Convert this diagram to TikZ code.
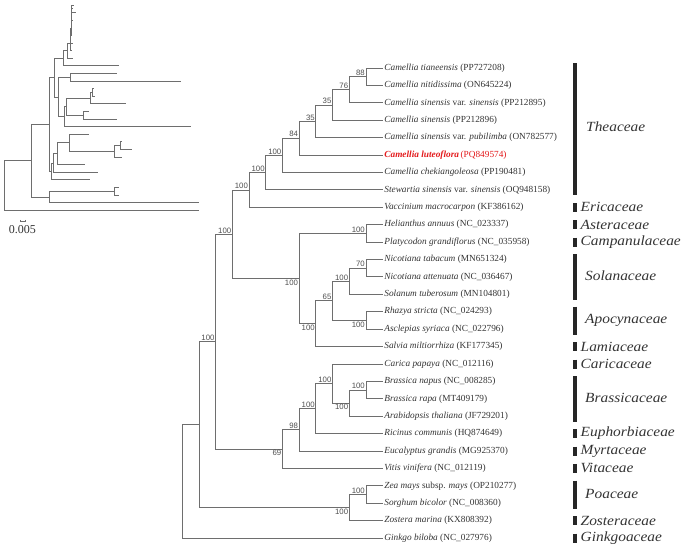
\documentclass[tikz,border=0pt]{standalone}
\usepackage{fontspec}
\setmainfont{Liberation Serif}
\newfontfamily\bootfont{Liberation Sans}
\newfontfamily\famfont[FakeStretch=1.1]{Liberation Serif}
\usetikzlibrary{positioning}
\definecolor{branch}{HTML}{6E6E6E}
\definecolor{bootgray}{HTML}{4D4D4D}
\definecolor{leafgray}{HTML}{333333}
\definecolor{lutred}{HTML}{E31A1C}
\tikzstyle{leaf} = [anchor=west, inner sep=1.5pt, text=leafgray, font=\fontsize{9.3}{10}\selectfont]
\tikzstyle{boot} = [inner sep=1pt, text=bootgray, font=\bootfont\fontsize{7.8}{8}\selectfont]
\tikzstyle{fam} = [anchor=west, inner sep=0pt, text=leafgray, font=\famfont\itshape\fontsize{14}{15}\selectfont]
\tikzstyle{famline} = [line width=3.5pt, draw=black!85]
\tikzstyle{branchline} = [draw=branch, line width=0.9pt]
\tikzstyle{inset} = [draw=branch, line width=0.8pt]

\begin{document}
\begin{tikzpicture}[x=1pt, y=-1pt]
  \useasboundingbox (0,0) rectangle (685,549);

  % small tree with branch lengths
  \coordinate (i0) at (73.5,5.0);   \coordinate (i1) at (76,12.6);
  \coordinate (i2) at (72.5,20.2);  \coordinate (i3) at (72.3,27.8);
  \coordinate (i4) at (72.3,35.4);  \coordinate (i5) at (72.5,43.0);
  \coordinate (i6) at (72,50.6);    \coordinate (i7) at (72.5,58.2);
  \coordinate (i8) at (119,65.8);   \coordinate (i9) at (117,73.4);
  \coordinate (i10) at (181,81.0);  \coordinate (i11) at (93.5,88.6);
  \coordinate (i12) at (94.5,96.2); \coordinate (i13) at (126,103.8);
  \coordinate (i14) at (89,111.4);  \coordinate (i15) at (117,119.0);
  \coordinate (i16) at (191,126.6); \coordinate (i17) at (89,134.2);
  \coordinate (i18) at (122,141.8); \coordinate (i19) at (132,149.4);
  \coordinate (i20) at (122,157.0); \coordinate (i21) at (85,164.6);
  \coordinate (i22) at (98,172.2);  \coordinate (i23) at (90,179.8);
  \coordinate (i24) at (119,187.4); \coordinate (i25) at (119,195.0);
  \coordinate (i26) at (199,202.6); \coordinate (i27) at (199,210.2);

  \coordinate (i88) at (71.8,8.8);    \coordinate (i76) at (71.6,14.5);
  \coordinate (i35a) at (71.4,21.2);  \coordinate (i35b) at (71.2,28.3);
  \coordinate (i84) at (70.8,35.7);   \coordinate (i100a) at (70.3,43.2);
  \coordinate (i100b) at (67.5,50.7); \coordinate (i100c) at (63.3,58.3);
  \coordinate (iHP) at (70.7,77.2);   \coordinate (i70) at (92,92.4);
  \coordinate (iG) at (90.7,98.1);    \coordinate (iH) at (83.3,115.2);
  \coordinate (iF) at (66,106.7);     \coordinate (iE) at (64,116.7);
  \coordinate (iD) at (58.3,97.0);    \coordinate (iC) at (54,77.7);
  \coordinate (iBr2) at (120.7,145.6); \coordinate (iBr) at (114.3,151.3);
  \coordinate (iCB) at (69,142.8);    \coordinate (iRic) at (57,153.7);
  \coordinate (i98) at (53,163.0);    \coordinate (i69) at (51,171.4);
  \coordinate (iB) at (49,124.6);     \coordinate (iZS) at (114.3,191.2);
  \coordinate (iMono) at (49.3,196.9); \coordinate (iA) at (31,160.8);
  \coordinate (iRoot) at (4,185.5);

  \draw [inset] (i88) |- (i0) (i88) |- (i1) (i76) |- (i88) (i76) |- (i2)
    (i35a) |- (i76) (i35a) |- (i3) (i35b) |- (i35a) (i35b) |- (i4)
    (i84) |- (i35b) (i84) |- (i5) (i100a) |- (i84) (i100a) |- (i6)
    (i100b) |- (i100a) (i100b) |- (i7) (i100c) |- (i100b) (i100c) |- (i8);
  \draw [inset] (iC) |- (i100c) (iC) |- (iD) (iD) |- (iHP) (iD) |- (iE)
    (iHP) |- (i9) (iHP) |- (i10) (iE) |- (iF) (iE) |- (i16)
    (iF) |- (iG) (iF) |- (iH) (iG) |- (i70) (iG) |- (i13)
    (i70) |- (i11) (i70) |- (i12) (iH) |- (i14) (iH) |- (i15);
  \draw [inset] (iB) |- (iC) (iB) |- (i69) (i69) |- (i98) (i69) |- (i23)
    (i98) |- (iRic) (i98) |- (i22) (iRic) |- (iCB) (iRic) |- (i21)
    (iCB) |- (i17) (iCB) |- (iBr) (iBr) |- (iBr2) (iBr) |- (i20)
    (iBr2) |- (i18) (iBr2) |- (i19);
  \draw [inset] (iA) |- (iB) (iA) |- (iMono) (iMono) |- (iZS) (iMono) |- (i26)
    (iZS) |- (i24) (iZS) |- (i25) (iRoot) |- (iA) (iRoot) |- (i27);

  % scale bar
  \coordinate (sbl) at (20,221);
  \coordinate (sbr) at (25.7,221);
  \draw [inset, line width=0.6pt] (sbl) -- (sbr);
  \draw [inset, line width=0.6pt] ([yshift=1.2pt]sbl) -- ([yshift=-1.2pt]sbl);
  \draw [inset, line width=0.6pt] ([yshift=1.2pt]sbr) -- ([yshift=-1.2pt]sbr);
  \node [text=leafgray, font=\fontsize{12}{13}\selectfont, inner sep=0pt] (scale) at (22.5,230) {0.005};

  % leaves
  \node [leaf] (tian) at (382.7,68.0) {\textit{Camellia tianeensis} (PP727208)};
  \node [leaf] (niti) at (382.7,85.4) {\textit{Camellia nitidissima} (ON645224)};
  \node [leaf] (sinv) at (382.7,102.8) {\textit{Camellia sinensis} var. \textit{sinensis} (PP212895)};
  \node [leaf] (sins) at (382.7,120.2) {\textit{Camellia sinensis} (PP212896)};
  \node [leaf] (pubi) at (382.7,137.6) {\textit{Camellia sinensis} var. \textit{pubilimba} (ON782577)};
  \node [leaf, text=lutred] (lute) at (382.7,155.1) {\textbf{\textit{Camellia luteoflora}}\,(PQ849574)};
  \node [leaf] (chek) at (382.7,172.5) {\textit{Camellia chekiangoleosa} (PP190481)};
  \node [leaf] (stew) at (382.7,189.9) {\textit{Stewartia sinensis} var. \textit{sinensis} (OQ948158)};
  \node [leaf] (vacc) at (382.7,207.3) {\textit{Vaccinium macrocarpon} (KF386162)};
  \node [leaf] (heli) at (382.7,224.7) {\textit{Helianthus annuus} (NC\_023337)};
  \node [leaf] (plat) at (382.7,242.1) {\textit{Platycodon grandiflorus} (NC\_035958)};
  \node [leaf] (ntab) at (382.7,259.5) {\textit{Nicotiana tabacum} (MN651324)};
  \node [leaf] (natt) at (382.7,276.9) {\textit{Nicotiana attenuata} (NC\_036467)};
  \node [leaf] (sola) at (382.7,294.3) {\textit{Solanum tuberosum} (MN104801)};
  \node [leaf] (rhaz) at (382.7,311.7) {\textit{Rhazya stricta} (NC\_024293)};
  \node [leaf] (ascl) at (382.7,329.2) {\textit{Asclepias syriaca} (NC\_022796)};
  \node [leaf] (salv) at (382.7,346.6) {\textit{Salvia miltiorrhiza} (KF177345)};
  \node [leaf] (cari) at (382.7,364.0) {\textit{Carica papaya} (NC\_012116)};
  \node [leaf] (bnap) at (382.7,381.4) {\textit{Brassica napus} (NC\_008285)};
  \node [leaf] (brap) at (382.7,398.8) {\textit{Brassica rapa} (MT409179)};
  \node [leaf] (arab) at (382.7,416.2) {\textit{Arabidopsis thaliana} (JF729201)};
  \node [leaf] (rici) at (382.7,433.6) {\textit{Ricinus communis} (HQ874649)};
  \node [leaf] (euca) at (382.7,451.0) {\textit{Eucalyptus grandis} (MG925370)};
  \node [leaf] (viti) at (382.7,468.4) {\textit{Vitis vinifera} (NC\_012119)};
  \node [leaf] (zeam) at (382.7,485.8) {\textit{Zea mays} subsp. \textit{mays} (OP210277)};
  \node [leaf] (sorg) at (382.7,503.3) {\textit{Sorghum bicolor} (NC\_008360)};
  \node [leaf] (zost) at (382.7,520.7) {\textit{Zostera marina} (KX808392)};
  \node [leaf] (gink) at (382.7,538.1) {\textit{Ginkgo biloba} (NC\_027976)};

  % internal nodes
  \coordinate (n88) at (366.0,76.7);
  \coordinate (n76) at (349.3,89.8);
  \coordinate (n35a) at (332.6,105.0);
  \coordinate (n35b) at (315.9,121.3);
  \coordinate (n84) at (299.2,138.2);
  \coordinate (n100a) at (282.5,155.4);
  \coordinate (n100b) at (265.8,172.6);
  \coordinate (n100c) at (249.1,190.0);
  \coordinate (nC) at (232.4,234.3);
  \coordinate (nHP) at (366.0,233.4);
  \coordinate (nD) at (299.2,278.6);
  \coordinate (n70) at (366.0,268.2);
  \coordinate (nG) at (349.3,281.3);
  \coordinate (nH) at (366.0,320.4);
  \coordinate (nF) at (332.6,300.9);
  \coordinate (nE) at (315.9,323.7);
  \coordinate (nBr2) at (366.0,390.1);
  \coordinate (nBr) at (349.3,403.2);
  \coordinate (nCB) at (332.6,383.6);
  \coordinate (nRic) at (315.9,408.6);
  \coordinate (n98) at (299.2,429.8);
  \coordinate (n69) at (282.5,449.1);
  \coordinate (nB) at (215.7,341.7);
  \coordinate (nZS) at (366.0,494.6);
  \coordinate (nMono) at (349.3,507.6);
  \coordinate (nA) at (199.0,424.7);
  \coordinate (nRoot) at (182.3,481.4);

  % branches
  \draw [branchline] (n88) |- (tian.west) (n88) |- (niti.west);
  \draw [branchline] (n76) |- (n88) (n76) |- (sinv.west);
  \draw [branchline] (n35a) |- (n76) (n35a) |- (sins.west);
  \draw [branchline] (n35b) |- (n35a) (n35b) |- (pubi.west);
  \draw [branchline] (n84) |- (n35b) (n84) |- (lute.west);
  \draw [branchline] (n100a) |- (n84) (n100a) |- (chek.west);
  \draw [branchline] (n100b) |- (n100a) (n100b) |- (stew.west);
  \draw [branchline] (n100c) |- (n100b) (n100c) |- (vacc.west);
  \draw [branchline] (nC) |- (n100c) (nC) |- (nD);
  \draw [branchline] (nD) |- (nHP) (nD) |- (nE);
  \draw [branchline] (nHP) |- (heli.west) (nHP) |- (plat.west);
  \draw [branchline] (nE) |- (nF) (nE) |- (salv.west);
  \draw [branchline] (nF) |- (nG) (nF) |- (nH);
  \draw [branchline] (nG) |- (n70) (nG) |- (sola.west);
  \draw [branchline] (n70) |- (ntab.west) (n70) |- (natt.west);
  \draw [branchline] (nH) |- (rhaz.west) (nH) |- (ascl.west);
  \draw [branchline] (nB) |- (nC) (nB) |- (n69);
  \draw [branchline] (n69) |- (n98) (n69) |- (viti.west);
  \draw [branchline] (n98) |- (nRic) (n98) |- (euca.west);
  \draw [branchline] (nRic) |- (nCB) (nRic) |- (rici.west);
  \draw [branchline] (nCB) |- (cari.west) (nCB) |- (nBr);
  \draw [branchline] (nBr) |- (nBr2) (nBr) |- (arab.west);
  \draw [branchline] (nBr2) |- (bnap.west) (nBr2) |- (brap.west);
  \draw [branchline] (nA) |- (nB) (nA) |- (nMono);
  \draw [branchline] (nMono) |- (nZS) (nMono) |- (zost.west);
  \draw [branchline] (nZS) |- (zeam.west) (nZS) |- (sorg.west);
  \draw [branchline] (nRoot) |- (nA) (nRoot) |- (gink.west);

  % bootstrap values
  \node [boot, anchor=south east] (b88) at (n88) {88};
  \node [boot, anchor=south east] (b76) at (n76) {76};
  \node [boot, anchor=south east] (b35a) at (n35a) {35};
  \node [boot, anchor=south east] (b35b) at (n35b) {35};
  \node [boot, anchor=south east] (b84) at (n84) {84};
  \node [boot, anchor=south east] (b100a) at (n100a) {100};
  \node [boot, anchor=south east] (b100b) at (n100b) {100};
  \node [boot, anchor=south east] (b100c) at (n100c) {100};
  \node [boot, anchor=south east] (bC) at (nC) {100};
  \node [boot, anchor=south east] (bHP) at (nHP) {100};
  \node [boot, anchor=north east] (bD) at (nD) {100};
  \node [boot, anchor=north east] (bE) at (nE) {100};
  \node [boot, anchor=south east] (bF) at (nF) {65};
  \node [boot, anchor=south east] (bG) at (nG) {100};
  \node [boot, anchor=south east] (b70) at (n70) {70};
  \node [boot, anchor=north east] (bH) at (nH) {100};
  \node [boot, anchor=south east] (bB) at (nB) {100};
  \node [boot, anchor=south east] (b98) at (n98) {98};
  \node [boot, anchor=south east] (bRic) at (nRic) {100};
  \node [boot, anchor=south east] (bCB) at (nCB) {100};
  \node [boot, anchor=north east] (bBr) at (nBr) {100};
  \node [boot, anchor=south east] (bBr2) at (nBr2) {100};
  \node [boot, anchor=north east] (b69) at (n69) {69};
  \node [boot, anchor=south east] (bZS) at (nZS) {100};
  \node [boot, anchor=north east] (bMono) at (nMono) {100};

  % families
  \draw [famline] (575,63) -- (575,195);
  \node [fam] (thea) at (586,127) {Theaceae};
  \draw [famline] (575,203) -- (575,212);
  \node [fam] (eric) at (580.5,207.3) {Ericaceae};
  \draw [famline] (575,220.2) -- (575,229.2);
  \node [fam] (aste) at (580.5,224.7) {Asteraceae};
  \draw [famline] (575,237.6) -- (575,246.6);
  \node [fam] (camp) at (580.5,242.1) {Campanulaceae};
  \draw [famline] (575,254) -- (575,299.5);
  \node [fam] (sola2) at (585,276) {Solanaceae};
  \draw [famline] (575,306.5) -- (575,334.5);
  \node [fam] (apoc) at (585,320) {Apocynaceae};
  \draw [famline] (575,342.1) -- (575,351.1);
  \node [fam] (lami) at (580.5,346.6) {Lamiaceae};
  \draw [famline] (575,359.5) -- (575,368.5);
  \node [fam] (cari2) at (580.5,364.0) {Caricaceae};
  \draw [famline] (575,376) -- (575,421.5);
  \node [fam] (bras) at (585,398) {Brassicaceae};
  \draw [famline] (575,429.1) -- (575,438.1);
  \node [fam] (euph) at (580.5,433.6) {Euphorbiaceae};
  \draw [famline] (575,446.5) -- (575,455.5);
  \node [fam] (myrt) at (580.5,451.0) {Myrtaceae};
  \draw [famline] (575,463.9) -- (575,472.9);
  \node [fam] (vita) at (580.5,468.4) {Vitaceae};
  \draw [famline] (575,480.5) -- (575,508.5);
  \node [fam] (poac) at (585,494) {Poaceae};
  \draw [famline] (575,516.2) -- (575,525.2);
  \node [fam] (zost2) at (580.5,520.7) {Zosteraceae};
  \draw [famline] (575,533.6) -- (575,542.6);
  \node [fam] (gink2) at (580.5,538.1) {Ginkgoaceae};
\end{tikzpicture}
\end{document}
